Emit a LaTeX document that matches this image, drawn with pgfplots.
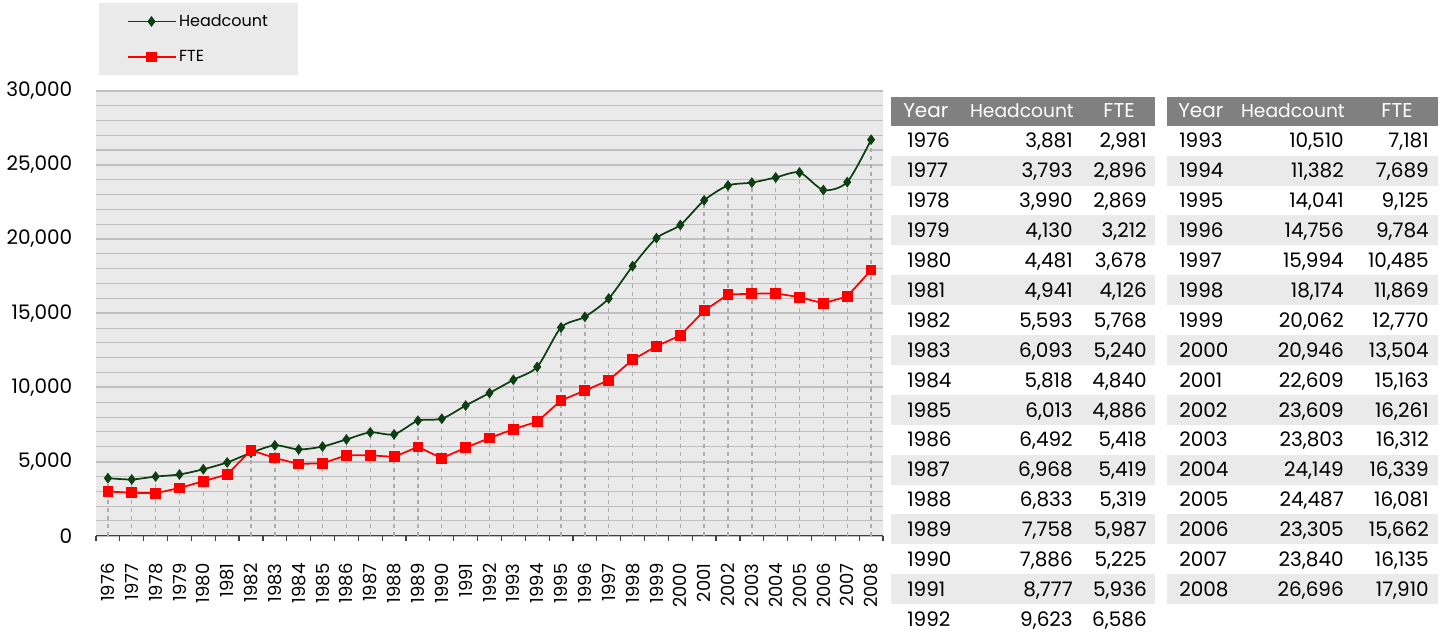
\documentclass[border=0pt]{standalone}
\usepackage{fontspec}
\setmainfont{Poppins}
\usepackage{pgfplots}
\pgfplotsset{compat=1.18}
\definecolor{bggray}{HTML}{EAEAEA}
\definecolor{hdrgray}{HTML}{808080}
\definecolor{gridgray}{HTML}{C0C0C0}
\definecolor{hcgreen}{HTML}{0E3F12}
\definecolor{ftered}{HTML}{FF0000}
\begin{document}
\begin{tikzpicture}
\useasboundingbox (0,0) rectangle (1086.75pt,-474pt);
\begin{axis}[
  at={(72pt,-401.8pt)}, anchor=south west,
  scale only axis, width=590.25pt, height=333.8pt,
  xmin=-0.5, xmax=32.5, ymin=0, ymax=30000,
  axis background/.style={fill=bggray},
  axis lines*=left,
  y axis line style={draw=none},
  x axis line style={draw=black!75, line width=0.9pt},
  xtick={0,...,32},
  xticklabels={1976,1977,1978,1979,1980,1981,1982,1983,1984,1985,1986,1987,1988,1989,1990,1991,1992,1993,1994,1995,1996,1997,1998,1999,2000,2001,2002,2003,2004,2005,2006,2007,2008},
  minor xtick={-0.5,0.5,...,32.5},
  major x tick style={draw=none},
  minor x tick style={draw=black!75, line width=0.9pt},
  tick align=outside,
  minor tick length=4pt,
  ytick={0,5000,...,30000},
  minor ytick={1000,2000,3000,4000,6000,7000,8000,9000,11000,12000,13000,14000,16000,17000,18000,19000,21000,22000,23000,24000,26000,27000,28000,29000},
  major y tick style={draw=none},
  minor y tick style={draw=none},
  ymajorgrids, yminorgrids,
  major grid style={draw=gridgray, line width=1.5pt},
  minor grid style={draw=gridgray, line width=0.8pt},
  /pgf/number format/assume math mode=true,
  /pgf/number format/1000 sep={,},
  scaled y ticks=false,
  yticklabel style={font=\fontsize{15}{18}\selectfont},
  yticklabel shift=10pt,
  xticklabel style={font=\fontsize{13.5}{16}\selectfont, rotate=90, anchor=east},
  xticklabel shift=13pt,
  clip=false,
  legend style={at={(0.003,1.197)}, anchor=north west, fill=bggray, draw=none,
    font=\fontsize{12}{14}\selectfont, inner xsep=21pt, inner ysep=6.5pt, row sep=12.5pt,
    cells={anchor=west}},
  legend image code/.code={\draw[mark repeat=2,mark phase=2,#1] plot coordinates {(0pt,0pt) (18pt,0pt) (36pt,0pt)};},
]
% drop lines
\addplot[ycomb, draw=gridgray!90!black, dashed, line width=1pt, forget plot, no marks] coordinates {
(0,3881)(1,3793)(2,3990)(3,4130)(4,4481)(5,4941)(6,5768)(7,6093)(8,5818)(9,6013)(10,6492)
(11,6968)(12,6833)(13,7758)(14,7886)(15,8777)(16,9623)(17,10510)(18,11382)(19,14041)(20,14756)
(21,15994)(22,18174)(23,20062)(24,20946)(25,22609)(26,23609)(27,23803)(28,24149)(29,24487)(30,23305)
(31,23840)(32,26696)};
\addplot[hcgreen, line width=1.3pt, smooth, tension=0.45, mark=diamond*, mark size=3pt, mark options={solid, fill=hcgreen}] coordinates {
(0,3881)(1,3793)(2,3990)(3,4130)(4,4481)(5,4941)(6,5593)(7,6093)(8,5818)(9,6013)(10,6492)
(11,6968)(12,6833)(13,7758)(14,7886)(15,8777)(16,9623)(17,10510)(18,11382)(19,14041)(20,14756)
(21,15994)(22,18174)(23,20062)(24,20946)(25,22609)(26,23609)(27,23803)(28,24149)(29,24487)(30,23305)
(31,23840)(32,26696)};
\addlegendentry{\makebox[66pt][l]{Headcount}}
\addplot[ftered, line width=1.3pt, mark=square*, mark size=3.4pt, mark options={solid, fill=ftered}] coordinates {
(0,2981)(1,2896)(2,2869)(3,3212)(4,3678)(5,4126)(6,5768)(7,5240)(8,4840)(9,4886)(10,5418)
(11,5419)(12,5319)(13,5987)(14,5225)(15,5936)(16,6586)(17,7181)(18,7689)(19,9125)(20,9784)
(21,10485)(22,11869)(23,12770)(24,13504)(25,15163)(26,16261)(27,16312)(28,16339)(29,16081)(30,15662)
(31,16135)(32,17910)};
\addlegendentry{\makebox[66pt][l]{FTE}}
\end{axis}
\begin{scope}[x=0.75pt, y=-0.75pt, font=\fontsize{15}{18}\selectfont]
% table 1
\fill[hdrgray] (891,96.7) rectangle (1155,125.7);
\node[anchor=base west, text=white, inner sep=0] at (903,117) {Year};
\node[anchor=base east, text=white, inner sep=0] at (1074,117) {\fontsize{14}{17}\selectfont Headcount};
\node[anchor=base, text=white, inner sep=0] at (1119,117) {FTE};
\foreach \yr/\hc/\ft [count=\i from 0] in {1976/{3,881}/{2,981},1977/{3,793}/{2,896},1978/{3,990}/{2,869},1979/{4,130}/{3,212},1980/{4,481}/{3,678},1981/{4,941}/{4,126},1982/{5,593}/{5,768},1983/{6,093}/{5,240},1984/{5,818}/{4,840},1985/{6,013}/{4,886},1986/{6,492}/{5,418},1987/{6,968}/{5,419},1988/{6,833}/{5,319},1989/{7,758}/{5,987},1990/{7,886}/{5,225},1991/{8,777}/{5,936},1992/{9,623}/{6,586}} {
  \pgfmathsetmacro{\yc}{140.6+29.9*\i}
  \ifodd\i \fill[bggray] (891,\yc-15) rectangle (1155,\yc+15); \fi
  \node[anchor=base west, inner sep=0] at (907,\yc+7.3) {\yr};
  \node[anchor=base east, inner sep=0] at (1073,\yc+7.3) {\hc};
  \node[anchor=base east, inner sep=0] at (1147,\yc+7.3) {\ft};
}
% table 2
\fill[hdrgray] (1167,96.7) rectangle (1438,125.7);
\node[anchor=base west, text=white, inner sep=0] at (1178,117) {Year};
\node[anchor=base east, text=white, inner sep=0] at (1345,117) {\fontsize{14}{17}\selectfont Headcount};
\node[anchor=base, text=white, inner sep=0] at (1397,117) {FTE};
\foreach \yr/\hc/\ft [count=\i from 0] in {1993/{10,510}/{7,181},1994/{11,382}/{7,689},1995/{14,041}/{9,125},1996/{14,756}/{9,784},1997/{15,994}/{10,485},1998/{18,174}/{11,869},1999/{20,062}/{12,770},2000/{20,946}/{13,504},2001/{22,609}/{15,163},2002/{23,609}/{16,261},2003/{23,803}/{16,312},2004/{24,149}/{16,339},2005/{24,487}/{16,081},2006/{23,305}/{15,662},2007/{23,840}/{16,135},2008/{26,696}/{17,910}} {
  \pgfmathsetmacro{\yc}{140.6+29.9*\i}
  \ifodd\i \fill[bggray] (1167,\yc-15) rectangle (1438,\yc+15); \fi
  \node[anchor=base west, inner sep=0] at (1179,\yc+7.3) {\yr};
  \node[anchor=base east, inner sep=0] at (1344,\yc+7.3) {\hc};
  \node[anchor=base east, inner sep=0] at (1429,\yc+7.3) {\ft};
}
\end{scope}
\end{tikzpicture}
\end{document}
